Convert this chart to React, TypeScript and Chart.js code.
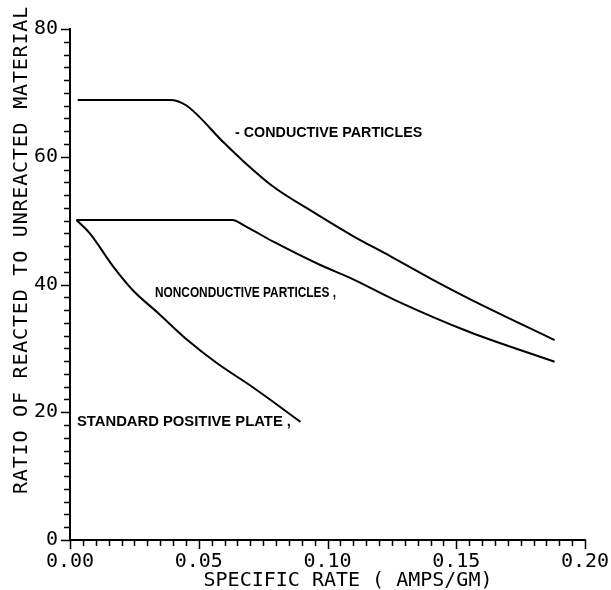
import React, { useEffect, useRef } from "react";
import { Chart, registerables } from "chart.js";

Chart.register(...registerables);

// ---- data ----
const conductiveX = [0.003, 0.0388, 0.0449, 0.060, 0.0668, 0.079, 0.0942, 0.1094, 0.1245, 0.1397, 0.1549, 0.1882];
const conductiveY = [68.9, 68.9, 68.1, 62.1, 59.5, 55.3, 51.4, 47.7, 44.4, 41.0, 37.8, 31.3];

const nonconductiveX = [0.0025, 0.063, 0.0684, 0.079, 0.0972, 0.109, 0.126, 0.1549, 0.1882];
const nonconductiveY = [50.1, 50.1, 49.05, 46.7, 43.05, 41.0, 37.6, 32.6, 27.9];

const standardX = [0.0025, 0.0077, 0.0168, 0.0244, 0.0343, 0.0456, 0.057, 0.0714, 0.0895];
const standardY = [50.1, 48.0, 42.8, 39.1, 35.5, 31.3, 27.7, 23.8, 18.5];

const annotationTexts = ["- CONDUCTIVE PARTICLES", "NONCONDUCTIVE PARTICLES ,", "STANDARD POSITIVE PLATE ,"];
const annotationX = [0.0641, 0.033, 0.0027];
const annotationY = [63.7, 38.7, 18.5];

const xTitle = "SPECIFIC RATE ( AMPS/GM)";
const yTitle = "RATIO OF REACTED TO UNREACTED MATERIAL";

const xMin = 0, xMax = 0.2, xStep = 0.005, xMajor = 0.05;
const yMin = 0, yMax = 80, yStep = 2, yMajor = 20;

// ---- styles ----
const MONO = '"DejaVu Sans Mono", monospace';
const annotationFontSize = [14.3, 14, 14.8];
const annotationMaxWidth = [190, 181, 216];

const toPoints = (xs: number[], ys: number[]) => xs.map((x, i) => ({ x, y: ys[i] }));
const isMajor = (v: number, m: number) => Math.abs(v / m - Math.round(v / m)) < 1e-6;

const decorPlugin = {
  id: "decor",
  afterDraw(chart: any) {
    const ctx = chart.ctx as CanvasRenderingContext2D;
    const xs = chart.scales.x;
    const ys = chart.scales.y;
    const area = chart.chartArea;
    ctx.save();
    ctx.strokeStyle = "#000";
    ctx.fillStyle = "#000";
    ctx.lineWidth = 1.5;
    ctx.beginPath();
    xs.ticks.forEach((t: any) => {
      const px = Math.round(xs.getPixelForValue(t.value)) + 0.5;
      const len = isMajor(t.value, xMajor) ? 9 : 6;
      ctx.moveTo(px, area.bottom);
      ctx.lineTo(px, area.bottom + len);
    });
    ys.ticks.forEach((t: any) => {
      const py = Math.round(ys.getPixelForValue(t.value)) + 0.5;
      const len = isMajor(t.value, yMajor) ? 9 : 6;
      ctx.moveTo(area.left, py);
      ctx.lineTo(area.left - len, py);
    });
    ctx.stroke();

    ctx.textAlign = "left";
    ctx.textBaseline = "middle";
    annotationTexts.forEach((txt, i) => {
      ctx.font = `bold ${annotationFontSize[i]}px "Liberation Sans", sans-serif`;
      ctx.fillText(txt, xs.getPixelForValue(annotationX[i]), ys.getPixelForValue(annotationY[i]), annotationMaxWidth[i]);
    });

    ctx.font = "20px " + MONO;
    ctx.textAlign = "center";
    ctx.textBaseline = "middle";
    ctx.fillText(xTitle, 348, 581);
    ctx.save();
    (ctx as any).letterSpacing = "0.8px";
    ctx.translate(22, 250);
    ctx.rotate(-Math.PI / 2);
    ctx.fillText(yTitle, 0, 0);
    ctx.restore();
    ctx.restore();
  },
};

export default function App() {
  const ref = useRef<HTMLCanvasElement>(null);
  useEffect(() => {
    document.body.style.margin = "0";
    const lineStyle = {
      borderColor: "#000",
      borderWidth: 2,
      pointRadius: 0,
      cubicInterpolationMode: "monotone" as const,
      fill: false,
      showLine: true,
    };
    const chart = new Chart(ref.current!, {
      type: "scatter",
      data: {
        datasets: [
          { label: "Conductive particles", data: toPoints(conductiveX, conductiveY), ...lineStyle },
          { label: "Nonconductive particles", data: toPoints(nonconductiveX, nonconductiveY), ...lineStyle },
          { label: "Standard positive plate", data: toPoints(standardX, standardY), ...lineStyle },
        ],
      },
      options: {
        animation: false,
        responsive: false,
        layout: { padding: { left: 0, top: 29, right: 26, bottom: 0 } },
        plugins: { legend: { display: false }, tooltip: { enabled: false } },
        scales: {
          x: {
            type: "linear",
            min: xMin,
            max: xMax,
            afterFit: (s: any) => { s.height = 50; s.paddingLeft = 0; s.paddingRight = 0; },
            grid: { display: false, drawTicks: false, tickLength: 0 },
            border: { display: true, color: "#000", width: 2 },
            ticks: {
              stepSize: xStep,
              autoSkip: false,
              maxRotation: 0,
              padding: 10,
              color: "#000",
              font: { family: MONO, size: 20 },
              callback: (v: any) => (isMajor(Number(v), xMajor) ? Number(v).toFixed(2) : ""),
            },
          },
          y: {
            type: "linear",
            min: yMin,
            max: yMax,
            afterFit: (s: any) => { s.width = 70; s.paddingTop = 0; s.paddingBottom = 0; },
            grid: { display: false, drawTicks: false, tickLength: 0 },
            border: { display: true, color: "#000", width: 2 },
            ticks: {
              stepSize: yStep,
              autoSkip: false,
              padding: 12,
              color: "#000",
              font: { family: MONO, size: 20 },
              callback: (v: any) => (isMajor(Number(v), yMajor) ? String(Math.round(Number(v))) : ""),
            },
          },
        },
      },
      plugins: [decorPlugin],
    });
    return () => chart.destroy();
  }, []);
  return (
    <div style={{ width: 611, height: 590 }}>
      <canvas ref={ref} width={611} height={590} style={{ display: "block" }} />
    </div>
  );
}
